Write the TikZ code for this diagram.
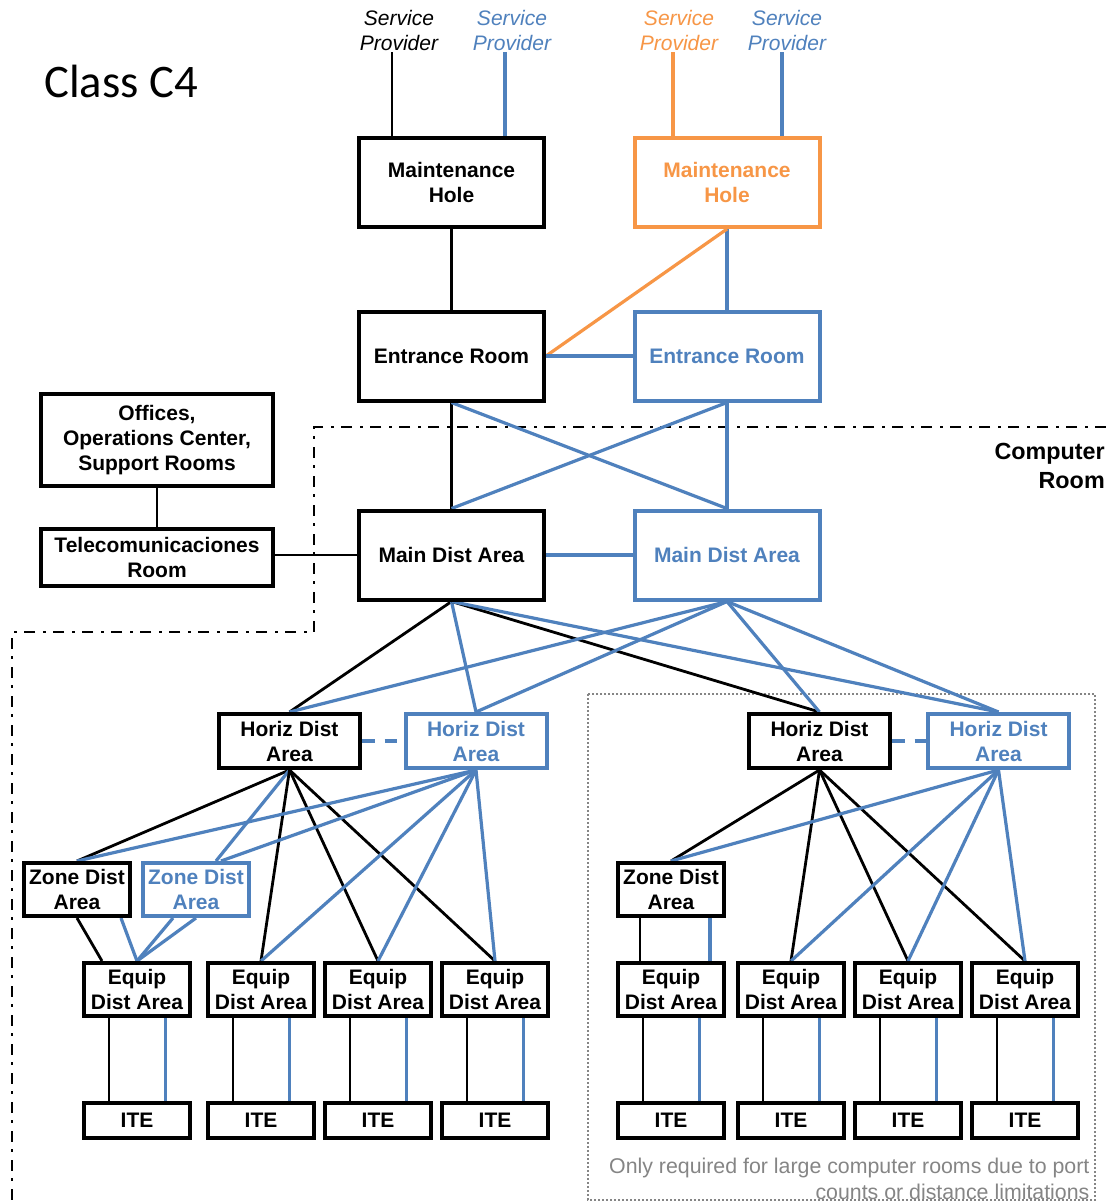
\documentclass[tikz,border=0pt]{standalone}
\usepackage{fontspec}
\setmainfont{Liberation Sans}
\newfontfamily\carlito{Carlito}
\usetikzlibrary{backgrounds}
\definecolor{bl}{HTML}{4F81BD}
\definecolor{og}{HTML}{F79646}
\definecolor{gr}{HTML}{858585}
\begin{document}
\begin{tikzpicture}[x=0.75pt,y=-0.75pt,
  box/.style={draw, line width=3pt, fill=white, inner sep=0pt, align=center, font=\fontsize{15.75}{18.75}\selectfont\bfseries},
  bigbox/.style={box, minimum width=138.75pt, minimum height=66.75pt},
  hda/.style={box, minimum width=105.75pt, minimum height=40.5pt},
  small/.style={box, minimum width=79.5pt, minimum height=39.75pt},
  ite/.style={box, minimum width=79.5pt, minimum height=26.25pt},
  bluebox/.style={draw=bl, text=bl},
  orangebox/.style={draw=og, text=og},
  kline/.style={line width=2.1pt, black},
  bline/.style={line width=2.4pt, bl},
  oline/.style={line width=2.4pt, og},
  sp/.style={align=center, inner sep=1pt, font=\fontsize{15.75}{18.75}\selectfont\itshape},
]
\useasboundingbox (0,0) rectangle (1106,1203);

% title and labels
\node[anchor=west, inner sep=0pt, font=\carlito\fontsize{35}{40}\selectfont] (title) at (44,81) {Class C4};
\node[sp] (sp1) at (399,30) {Service\\Provider};
\node[sp,text=bl] (sp2) at (512,30) {Service\\Provider};
\node[sp,text=og] (sp3) at (679,30) {Service\\Provider};
\node[sp,text=bl] (sp4) at (787,30) {Service\\Provider};
\node[anchor=east, align=right, inner sep=0pt, font=\fontsize{17.5}{21.5}\selectfont\bfseries] (cr) at (1105,466) {Computer\\Room};

% main boxes
\node[bigbox] (mh1) at (451.5,182.5) {Maintenance\\Hole};
\node[bigbox,orangebox] (mh2) at (727,182.5) {Maintenance\\Hole};
\node[bigbox] (er1) at (451.5,356) {Entrance Room};
\node[bigbox,bluebox] (er2) at (727,356) {Entrance Room};
\node[bigbox] (md1) at (451.5,555) {Main Dist Area};
\node[bigbox,bluebox] (md2) at (727,555) {Main Dist Area};
\node[box, minimum width=174pt, minimum height=69pt] (off) at (157,440) {Offices,\\Operations Center,\\Support Rooms};
\node[box, minimum width=174pt, minimum height=42.75pt] (tel) at (157,557.5) {Telecomunicaciones\\Room};

% horizontal distribution
\node[hda] (h1) at (289.5,741) {Horiz Dist\\Area};
\node[hda,bluebox] (h2) at (476,741) {Horiz Dist\\Area};
\node[hda] (h3) at (819.5,741) {Horiz Dist\\Area};
\node[hda,bluebox] (h4) at (998.5,741) {Horiz Dist\\Area};

% zone distribution
\node[small] (z1) at (77,889.5) {Zone Dist\\Area};
\node[small,bluebox] (z2) at (196,889.5) {Zone Dist\\Area};
\node[small] (z3) at (671,889.5) {Zone Dist\\Area};

% equipment and ITE
\foreach \n/\x in {1/137,2/261,3/378,4/495,5/671,6/791,7/908,8/1025}{
  \node[small] (e\n) at (\x,989.5) {Equip\\Dist Area};
  \node[ite] (i\n) at (\x,1120.5) {ITE};
}

% note
\node[anchor=east, align=right, inner sep=1pt, text=gr, font=\fontsize{16}{19.5}\selectfont] (note) at (1091,1179) {Only required for large computer rooms due to port\\counts or distance limitations};

\begin{scope}[on background layer]
  \fill[white] (0,0) rectangle (1106,1203);
  % boundaries
  \draw[line width=2pt, dash pattern=on 8.25pt off 5.6pt on 1.9pt off 6pt] (1106,427) -- (314,427) -- (314,632) -- (12,632) -- (12,1210);
  \draw[gr, line width=1.6pt, dash pattern=on 1.5pt off 1.5pt] (588,694) rectangle (1095,1200);

  % service providers
  \draw[kline] ([xshift=-44.6pt]mh1.north) -- ([xshift=-44.6pt]mh1.north |- sp1.south);
  \draw[bline] ([xshift=40.1pt]mh1.north) -- ([xshift=40.1pt]mh1.north |- sp2.south);
  \draw[oline] ([xshift=-40.5pt]mh2.north) -- ([xshift=-40.5pt]mh2.north |- sp3.south);
  \draw[bline] ([xshift=41.2pt]mh2.north) -- ([xshift=41.2pt]mh2.north |- sp4.south);

  % maintenance holes to entrance rooms
  \draw[kline] (mh1.south) -- (er1.north);
  \draw[bline] (mh2.south) -- (er2.north);
  \draw[oline] (mh2.south) -- (er1.east);
  \draw[bline] (er1.east) -- (er2.west);

  % entrance rooms to main dist
  \draw[kline] (er1.south) -- (md1.north);
  \draw[bline] (er1.south) -- (md2.north);
  \draw[bline] (er2.south) -- (md1.north);
  \draw[bline] (er2.south) -- (md2.north);
  \draw[bline] (md1.east) -- (md2.west);
  \draw[kline] (off.south) -- (tel.north);
  \draw[kline] (md1.west) -- (md1.west -| tel.east);

  % main dist to horizontal dist
  \draw[kline] (md1.south) -- (h1.north);
  \draw[bline] (md1.south) -- (h2.north);
  \draw[kline] (md1.south) -- (h3.north);
  \draw[bline] (md1.south) -- (h4.north);
  \draw[bline] (md2.south) -- (h1.north);
  \draw[bline] (md2.south) -- (h2.north);
  \draw[bline] (md2.south) -- (h3.north);
  \draw[bline] (md2.south) -- (h4.north);
  \draw[bline, line width=2.8pt, dash pattern=on 9.4pt off 7.5pt] (h1.east) -- (h2.west);
  \draw[bline, line width=2.8pt, dash pattern=on 9.4pt off 7.5pt] (h3.east) -- (h4.west);

  % left group
  \draw[kline] (h1.south) -- (z1.north);
  \draw[bline] (h1.south) -- ([xshift=15pt]z2.north);
  \draw[kline] (h1.south) -- (e2.north);
  \draw[kline] (h1.south) -- (e3.north);
  \draw[kline] (h1.south) -- (e4.north);
  \draw[bline] (h2.south) -- (z1.north);
  \draw[bline] (h2.south) -- ([xshift=18.75pt]z2.north);
  \draw[bline] (h2.south) -- (e2.north);
  \draw[bline] (h2.south) -- (e3.north);
  \draw[bline] (h2.south) -- (e4.north);
  \draw[kline] (z1.south) -- ([xshift=-26.25pt]e1.north);
  \draw[bline] ([xshift=33pt]z1.south) -- (e1.north);
  \draw[bline] ([xshift=-17.25pt]z2.south) -- (e1.north);
  \draw[bline] (z2.south) -- (e1.north);

  % right group
  \draw[kline] (h3.south) -- (z3.north);
  \draw[kline] (h3.south) -- (e6.north);
  \draw[kline] (h3.south) -- (e7.north);
  \draw[kline] (h3.south) -- (e8.north);
  \draw[bline] (h4.south) -- (z3.north);
  \draw[bline] (h4.south) -- (e6.north);
  \draw[bline] (h4.south) -- (e7.north);
  \draw[bline] (h4.south) -- (e8.north);
  \draw[kline] ([xshift=-23.25pt]z3.south) -- ([xshift=-23.25pt]e5.north);
  \draw[bline] ([xshift=29.25pt]z3.south) -- ([xshift=29.25pt]e5.north);

  % equip to ITE
  \foreach \n in {1,...,8}{
    \draw[kline] ([xshift=-21pt]e\n.south) -- ([xshift=-21pt]i\n.north);
    \draw[bline] ([xshift=21.5pt]e\n.south) -- ([xshift=21.5pt]i\n.north);
  }
\end{scope}
\end{tikzpicture}
\end{document}
